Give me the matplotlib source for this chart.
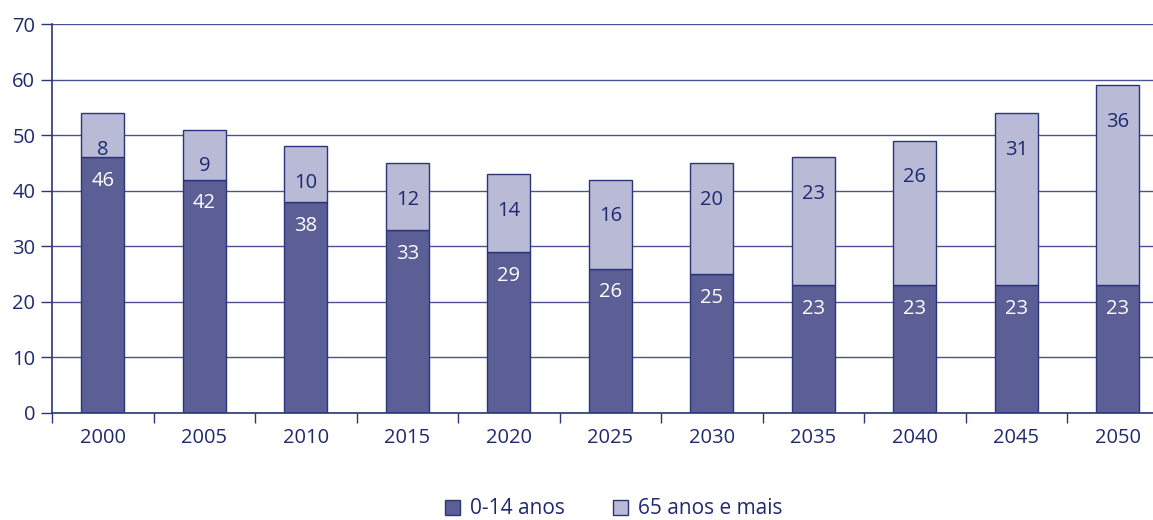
import numpy as np
import matplotlib
matplotlib.use('Agg')
import matplotlib.pyplot as plt
import matplotlib.patches as mpatches

# data
years = ['2000', '2005', '2010', '2015', '2020', '2025',
         '2030', '2035', '2040', '2045', '2050']
jovens = [46, 42, 38, 33, 29, 26, 25, 23, 23, 23, 23]     # 0-14 anos
idosos = [8, 9, 10, 12, 14, 16, 20, 23, 26, 31, 36]       # 65 anos e mais
series_labels = ['0-14 anos', '65 anos e mais']

NAVY = '#1F2A6E'
DARK = '#5C5F96'
LIGHT = '#B8BAD6'
EDGE = '#2B3578'
GRID = '#4A5291'
FS = 14.5

plt.rcParams['font.family'] = ['Open Sans', 'DejaVu Sans']

fig = plt.figure(figsize=(11.53, 5.2), dpi=100)
ax = fig.add_axes([52 / 1153, 1 - 413 / 520, (1168.5 - 52) / 1153, 389 / 520])

x = np.arange(len(years))
w = 0.42
ax.bar(x, jovens, w, color=DARK, edgecolor=EDGE, linewidth=1.0, zorder=3)
ax.bar(x, idosos, w, bottom=jovens, color=LIGHT, edgecolor=EDGE,
       linewidth=1.0, zorder=3)

for xi, j, i in zip(x, jovens, idosos):
    ax.text(xi, j - 4.3, str(j), ha='center', va='center',
            fontsize=FS, color='white', zorder=4)
    ax.text(xi, j + i - 6.6, str(i), ha='center', va='center',
            fontsize=FS, color=NAVY, zorder=4)

ax.set_xlim(-0.5, len(years) - 0.5)
ax.set_ylim(0, 70)
ax.set_yticks(np.arange(0, 71, 10))
ax.set_xticks(x)
ax.set_xticklabels(years)
ax.set_xticks(np.arange(-0.5, len(years) - 0.5, 1), minor=True)
ax.tick_params(axis='x', which='major', length=0, pad=11,
               labelsize=FS, labelcolor=NAVY)
ax.tick_params(axis='x', which='minor', length=7, width=1.0,
               color=EDGE, direction='out')
ax.tick_params(axis='y', length=8, width=1.0, color=EDGE, pad=4,
               labelsize=FS, labelcolor=NAVY)

ax.yaxis.grid(True, color=GRID, linewidth=1.0, zorder=0)
ax.set_axisbelow(True)
for s in ['top', 'right']:
    ax.spines[s].set_visible(False)
for s in ['left', 'bottom']:
    ax.spines[s].set_color(EDGE)
    ax.spines[s].set_linewidth(1.2)
    ax.spines[s].set_zorder(5)

handles = [mpatches.Patch(facecolor=DARK, edgecolor=EDGE, linewidth=1.0),
           mpatches.Patch(facecolor=LIGHT, edgecolor=EDGE, linewidth=1.0)]
leg = fig.legend(handles, series_labels, loc='lower center',
                 bbox_to_anchor=(0.532, -0.035), ncol=2, frameon=False,
                 fontsize=FS + 0.5, handlelength=0.75, handleheight=0.75,
                 handletextpad=0.45, columnspacing=2.3)
for t in leg.get_texts():
    t.set_color(NAVY)

fig.savefig('out.png', dpi=100)
